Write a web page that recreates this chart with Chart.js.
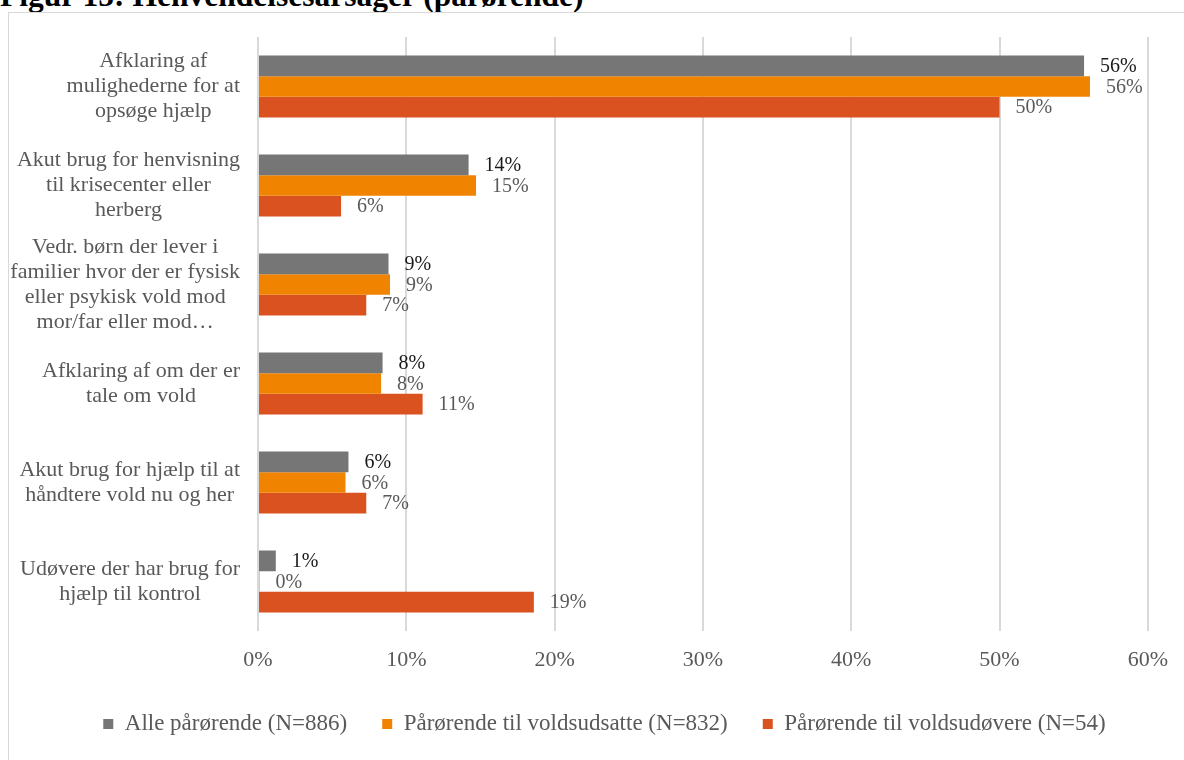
<!DOCTYPE html>
<html>
<head>
<meta charset="utf-8">
<script src="https://cdn.jsdelivr.net/npm/chart.js@4/dist/chart.umd.min.js"></script>
<style>
  html, body { margin: 0; padding: 0; background: #ffffff; overflow: hidden; }
  body { width: 1184px; height: 760px; position: relative; }
  #title { position: absolute; left: 0; top: -20px; font-family: 'Liberation Serif', serif; font-weight: bold; font-size: 31.5px; line-height: 31px; color: #000; white-space: nowrap; }
  #frame { position: absolute; left: 8px; top: 12px; width: 1200px; height: 800px; border: 1px solid #d9d9d9; box-sizing: border-box; }
  #wrap { position: absolute; left: 0; top: 0; width: 1184px; height: 760px; }
</style>
</head>
<body>
<div id="title">Figur 15: Henvendelsesårsager (pårørende)</div>
<div id="frame"></div>
<div id="wrap"><canvas id="c" width="1184" height="760"></canvas></div>
<script>
const categories = [
  ["Afklaring af", "mulighederne for at", "opsøge hjælp"],
  ["Akut brug for henvisning", "til krisecenter eller", "herberg"],
  ["Vedr. børn der lever i", "familier hvor der er fysisk", "eller psykisk vold mod", "mor/far eller mod…"],
  ["Afklaring af om der er", "tale om vold"],
  ["Akut brug for hjælp til at", "håndtere vold nu og her"],
  ["Udøvere der har brug for", "hjælp til kontrol"]
];
const seriesNames = ["Alle pårørende (N=886)", "Pårørende til voldsudsatte (N=832)", "Pårørende til voldsudøvere (N=54)"];
const alle = [55.7, 14.2, 8.8, 8.4, 6.1, 1.2];
const udsatte = [56.1, 14.7, 8.9, 8.3, 5.9, 0.1];
const udoevere = [50.0, 5.6, 7.3, 11.1, 7.3, 18.6];
const xTicks = [0, 10, 20, 30, 40, 50, 60];

const colors = ["#767676", "#F08400", "#DA521F"];
const labelColors = ["#1a1a1a", "#595959", "#595959"];
const FONT = "'Liberation Serif', 'Times New Roman', serif";

Chart.defaults.font.family = FONT;
Chart.defaults.font.size = 22;
Chart.defaults.color = "#595959";

const yLabelPlugin = {
  id: 'yLabels',
  afterDraw(chart) {
    const ctx = chart.ctx;
    const ys = chart.scales.y;
    ctx.save();
    ctx.font = "22px " + FONT;
    ctx.fillStyle = "#595959";
    ctx.textAlign = "center";
    ctx.textBaseline = "middle";
    const lh = 25;
    categories.forEach((lines, i) => {
      const y = ys.getPixelForValue(i);
      let maxW = 0;
      lines.forEach(l => { maxW = Math.max(maxW, ctx.measureText(l).width); });
      const cx = 240 - maxW / 2;
      const y0 = y - (lines.length - 1) / 2 * lh;
      lines.forEach((l, k) => ctx.fillText(l, cx, y0 + k * lh));
    });
    ctx.restore();
  }
};

const dataLabelPlugin = {
  id: 'dataLabels',
  afterDatasetsDraw(chart) {
    const ctx = chart.ctx;
    ctx.save();
    ctx.font = "20px " + FONT;
    ctx.textAlign = "left";
    ctx.textBaseline = "middle";
    chart.data.datasets.forEach((ds, di) => {
      const meta = chart.getDatasetMeta(di);
      ctx.fillStyle = labelColors[di];
      meta.data.forEach((bar, i) => {
        ctx.fillText(Math.round(ds.data[i]) + "%", bar.x + 16, bar.y + 1);
      });
    });
    ctx.restore();
  }
};

new Chart(document.getElementById('c'), {
  type: 'bar',
  data: {
    labels: categories.map(c => c.join(' ')),
    datasets: [
      { label: seriesNames[0], data: alle, backgroundColor: colors[0] },
      { label: seriesNames[1], data: udsatte, backgroundColor: colors[1] },
      { label: seriesNames[2], data: udoevere, backgroundColor: colors[2] }
    ]
  },
  options: {
    indexAxis: 'y',
    responsive: false,
    animation: false,
    devicePixelRatio: 1,
    categoryPercentage: 0.625,
    barPercentage: 1.0,
    layout: { padding: { top: 37, right: 35, left: 60, bottom: 14.5 } },
    scales: {
      x: {
        min: 0, max: 60,
        afterBuildTicks(scale) { scale.ticks = xTicks.map(v => ({ value: v })); },
        afterFit(scale) { scale.height = 46.5; },
        ticks: { callback: v => v + "%", padding: 16, color: "#595959", font: { size: 22 } },
        grid: { color: "#d9d9d9", lineWidth: 2, drawTicks: false },
        border: { display: false }
      },
      y: {
        afterFit(scale) { scale.width = 198; },
        ticks: { display: false },
        grid: { display: false },
        border: { display: false }
      }
    },
    plugins: {
      legend: {
        position: 'bottom',
        labels: { boxWidth: 10, boxHeight: 10, padding: 35, color: "#595959", font: { size: 23 } }
      },
      tooltip: { enabled: false }
    }
  },
  plugins: [yLabelPlugin, dataLabelPlugin]
});
</script>
</body>
</html>
